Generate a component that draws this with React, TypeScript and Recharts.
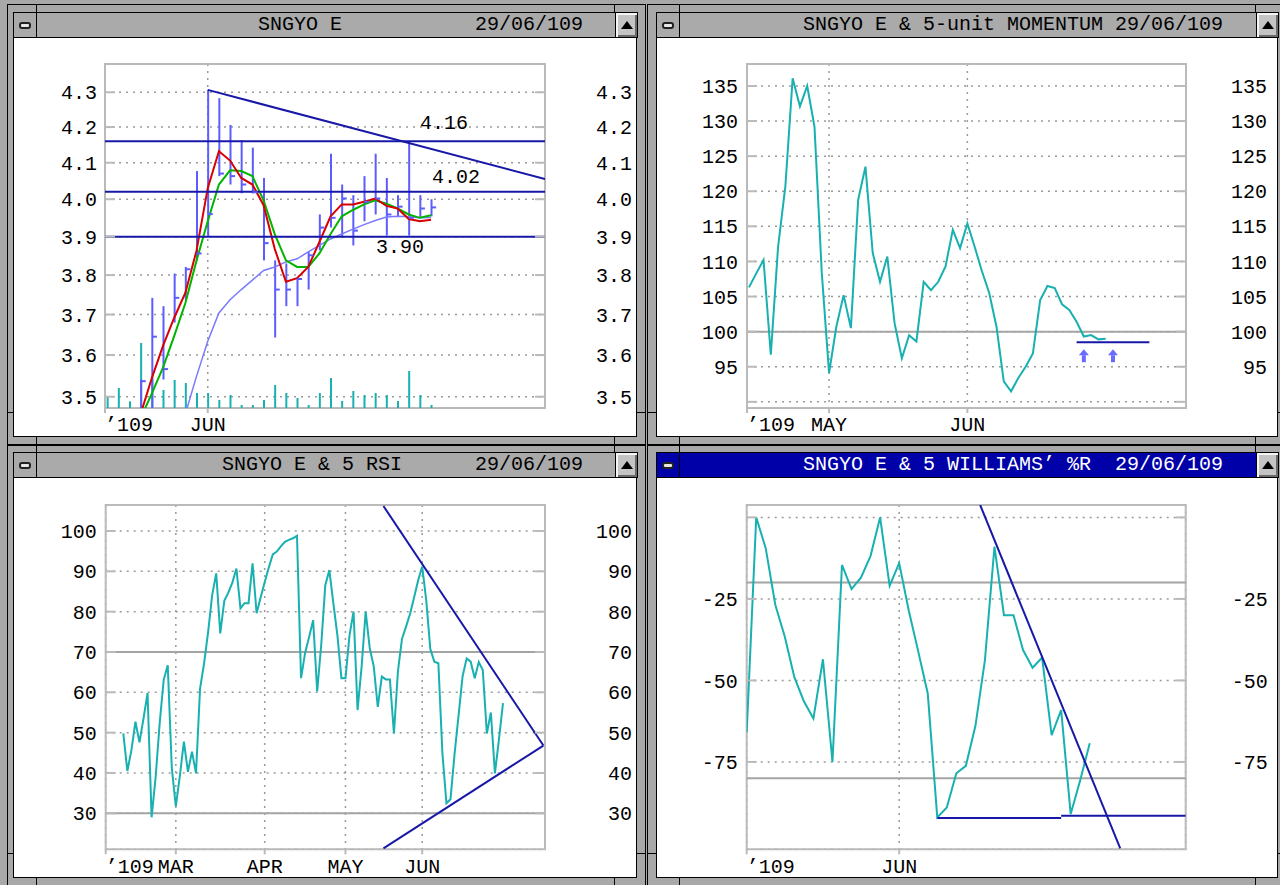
import React from 'react';
import {
  ComposedChart, Line, Bar, XAxis, YAxis, CartesianGrid,
  ReferenceLine, ReferenceArea, ReferenceDot,
} from 'recharts';

const FONT = '"Liberation Mono", "DejaVu Sans Mono", monospace';
const FRAME = '#a8a8a8';
const GRID = '#9a9a9a';
const BOX = '#bababa';
const LEVEL = '#a4a4a4';
const TEAL = '#18b0b0';
const NAVY = '#1818a8';
const BAR = '#5c5cff';
const ARROW = '#6a6aff';

// ---- SNGYO E : daily high/low/close, volume, moving averages (log scale) ----
const priceHigh = [null, null, null, 3.541, 3.742, 3.721, 3.804, 3.821, 4.077, 4.307, 4.283, 4.206, 4.163, 4.142, 4.058, 3.838, 3.830, 3.792, 3.860, 3.959, 4.125, 4.040, 4.011, 4.063, 4.125, 4.058, 4.011, 4.158, 4.011, 4.000];
const priceLow = [null, null, null, 3.44, 3.45, 3.541, 3.680, 3.737, 3.838, 3.900, 4.063, 4.040, 4.016, 4.016, 3.838, 3.643, 3.721, 3.721, 3.763, 3.864, 3.924, 3.898, 3.877, 3.941, 3.959, 3.903, 3.954, 3.903, 3.950, 3.954];
const priceClose = [null, null, null, 3.537, 3.645, 3.566, 3.742, 3.815, 3.856, 3.960, 4.070, 4.063, 4.040, 4.019, 3.883, 3.763, 3.763, 3.790, 3.851, 3.924, 3.950, 4.002, 3.916, 3.993, 4.002, 3.959, 3.980, 3.950, 3.975, 3.978];
const volume = [117, 200, 67, 650, 300, 180, 280, 250, 150, 150, 80, 130, 30, 30, 80, 230, 150, 100, 30, 150, 300, 70, 170, 130, 150, 130, 70, 370, 130, 30];
const maShort = [null, null, null, 3.46, 3.545, 3.623, 3.692, 3.755, 3.864, 4.030, 4.132, 4.106, 4.058, 4.040, 3.984, 3.868, 3.783, 3.792, 3.821, 3.886, 3.954, 3.986, 3.986, 3.993, 4.002, 3.982, 3.975, 3.947, 3.941, 3.945];
const maMid = [null, null, null, 3.45, 3.508, 3.570, 3.647, 3.729, 3.838, 3.941, 4.040, 4.079, 4.077, 4.063, 3.997, 3.907, 3.838, 3.821, 3.821, 3.856, 3.907, 3.954, 3.971, 3.986, 3.997, 3.988, 3.975, 3.959, 3.950, 3.957];
const maLong = [null, null, null, null, null, null, null, 3.46, 3.549, 3.634, 3.704, 3.737, 3.763, 3.787, 3.812, 3.821, 3.834, 3.842, 3.860, 3.877, 3.894, 3.907, 3.920, 3.932, 3.943, 3.952, 3.954, 3.953, 3.950, 3.951];
const priceLevels = [4.16, 4.02, 3.90];
const priceLevelLabels = ['4.16', '4.02', '3.90'];
const priceTrend = [{ x: 9, y: 4.307 }, { x: 39.2, y: 4.055 }];
const priceYTicks = [3.5, 3.6, 3.7, 3.8, 3.9, 4.0, 4.1, 4.2, 4.3];
const priceYLabels = ['3.5', '3.6', '3.7', '3.8', '3.9', '4.0', '4.1', '4.2', '4.3'];
const priceXTicks = [-0.2, 9];
const priceXLabels = ['’109', 'JUN'];

// ---- 5-unit momentum (days 1..50) ----
const momentum = [106.3, 108.3, 110.2, 96.7, 112.1, 120.7, 136.1, 132.1, 135.0, 129.2, 108.4, 94.1, 100.7, 105.2, 100.5, 118.8, 123.5, 111.2, 107.1, 110.7, 101.2, 96.2, 99.5, 98.6, 107.1, 105.9, 107.1, 109.3, 114.5, 111.9, 115.4, 112.1, 108.6, 105.5, 100.7, 92.9, 91.5, 93.4, 95.0, 96.9, 104.5, 106.5, 106.2, 103.9, 103.1, 101.4, 99.3, 99.5, 98.9, 99.0];
const momSupport = [{ x: 46, y: 98.5 }, { x: 56, y: 98.5 }];
const momSignals = [47, 51];
const momYTicks = [90, 95, 100, 105, 110, 115, 120, 125, 130, 135];
const momYLabels = ['', '95', '100', '105', '110', '115', '120', '125', '130', '135'];
const momXTicks = [0.73, 12, 31];
const momXLabels = ['’109', 'MAY', 'JUN'];

// ---- 5 RSI (days 0..94) ----
const rsi = [49.8, 40.5, 45.6, 52.7, 47.6, 53.5, 59.8, 29.0, 38.9, 52.3, 63.1, 66.7, 41.3, 31.7, 39.3, 47.8, 40.3, 45.3, 39.9, 60.9, 67.2, 75.0, 84.1, 89.5, 74.6, 82.7, 84.7, 87.2, 90.7, 80.8, 82.1, 82.1, 92.0, 79.6, 83.5, 87.3, 90.9, 94.2, 94.9, 96.2, 97.3, 97.8, 98.2, 98.8, 63.5, 69.7, 73.7, 77.9, 60.2, 71.8, 86.5, 90.3, 82.1, 74.2, 63.5, 63.5, 74.1, 80.0, 55.6, 66.4, 80.0, 71.0, 66.4, 56.4, 63.9, 63.2, 63.2, 49.8, 65.3, 73.3, 76.3, 79.5, 83.6, 87.8, 91.2, 82.8, 70.8, 67.6, 67.2, 44.9, 32.5, 33.5, 44.6, 54.3, 64.0, 68.4, 67.6, 63.5, 67.5, 65.5, 49.8, 55.0, 39.9, 48.3, 57.3];
const rsiUpper = [{ x: 64.4, y: 106.2 }, { x: 104, y: 46.8 }];
const rsiLower = [{ x: 64.4, y: 21.3 }, { x: 104, y: 46.8 }];
const rsiLevels = [70, 30];
const rsiYTicks = [30, 40, 50, 60, 70, 80, 90, 100];
const rsiYLabels = ['30', '40', '50', '60', '70', '80', '90', '100'];
const rsiXTicks = [-4.36, 13, 35, 55, 74];
const rsiXLabels = ['’109', 'MAR', 'APR', 'MAY', 'JUN'];

// ---- 5 Williams %R (days 0..36) ----
const williams = [-66, 0, -9.5, -26.8, -36.6, -49, -56.4, -61.7, -43.5, -75, -14.6, -22, -18.4, -11.8, 0, -21, -14, -28.5, -41.1, -54, -92, -89, -78.5, -76.2, -64, -43.8, -9, -30, -30, -40.7, -46.1, -43, -66.8, -59.1, -91, -80.6, -69.3];
const wrTrend = [{ x: 24.5, y: 3.8 }, { x: 39.2, y: -101.5 }];
const wrSupportA = [{ x: 20, y: -92.2 }, { x: 33, y: -92.2 }];
const wrSupportB = [{ x: 33, y: -91.5 }, { x: 46.07, y: -91.5 }];
const wrLevels = [-20, -80];
const wrYTicks = [-75, -50, -25, 0];
const wrYLabels = ['-75', '-50', '-25', ''];
const wrXTicks = [0, 16];
const wrXLabels = ['’109', 'JUN'];

const priceData = priceHigh.map((h, i) => ({
  day: i,
  range: h == null ? null : [priceLow[i], h],
  close: priceClose[i],
  vol: volume[i],
  ma1: maShort[i],
  ma2: maMid[i],
  ma3: maLong[i],
}));
const momData = momentum.map((v, i) => ({ day: i + 1, mom: v }));
const rsiData = rsi.map((v, i) => ({ day: i, rsi: v }));
const wrData = williams.map((v, i) => ({ day: i, wr: v }));

type Cfg = {
  xDomain: [number, number];
  yDomain: [number, number];
  xTicks: number[];
  xLabels: string[];
  yTicks: number[];
  yLabels: string[];
  log?: boolean;
  leftGap: number;
  rightGap: number;
};

const tickText = { fontFamily: FONT, fontSize: 20, fill: '#000' };

function xTick(values: number[], labels: string[]) {
  return (p: any) => {
    const i = values.indexOf(p.payload.value);
    return (
      <text x={p.x} y={p.y} dy="0.71em" textAnchor={i === 0 ? 'start' : 'middle'}
        fontFamily={FONT} fontSize={20} fill="#000">
        {i >= 0 ? labels[i] : ''}
      </text>
    );
  };
}

function axes(c: Cfg) {
  const fmt = (v: number) => {
    const i = c.yTicks.indexOf(v);
    return i >= 0 ? c.yLabels[i] : '';
  };
  const yCommon = {
    type: 'number' as const,
    scale: (c.log ? 'log' : 'linear') as any,
    domain: c.yDomain,
    ticks: c.yTicks,
    allowDataOverflow: true,
    interval: 0 as const,
    width: 60,
    axisLine: false,
    tickLine: { stroke: BOX, strokeWidth: 2 },
    tickSize: -10,
    tickFormatter: fmt,
  };
  return [
    <CartesianGrid key="grid" stroke={GRID} strokeDasharray="2 5" strokeWidth={1.5} />,
    <XAxis key="x" dataKey="day" type="number" domain={c.xDomain} ticks={c.xTicks}
      allowDataOverflow interval={0} height={20} axisLine={false}
      tickLine={{ stroke: BOX, strokeWidth: 2 }} tickSize={5} tickMargin={4}
      tick={xTick(c.xTicks, c.xLabels)} />,
    <YAxis key="yl" yAxisId={0} {...yCommon} tickMargin={c.leftGap} tick={tickText} />,
    <YAxis key="yr" yAxisId="r" orientation="right" {...yCommon} tickMargin={c.rightGap}
      tick={{ ...tickText, textAnchor: 'end' }} />,
  ];
}

function box(c: Cfg) {
  return (
    <ReferenceArea x1={c.xDomain[0]} x2={c.xDomain[1]} y1={c.yDomain[0]} y2={c.yDomain[1]}
      fill="none" stroke={BOX} strokeWidth={2} fillOpacity={0} />
  );
}

const closeTick = (p: any) =>
  p.cy == null || p.cx == null ? (
    <g key={`c${p.index}`} />
  ) : (
    <line key={`c${p.index}`} x1={p.cx} x2={p.cx + 5} y1={p.cy} y2={p.cy} stroke={BAR} strokeWidth={2} />
  );

const levelLabel = (text: string, dxFromRight: number, dy: number) => (p: any) => {
  const vb = p.viewBox || {};
  return (
    <text x={vb.x + vb.width - dxFromRight} y={vb.y + dy} textAnchor="end" dominantBaseline="central"
      fontFamily={FONT} fontSize={20} fill="#000">
      {text}
    </text>
  );
};
const levelLabelPos: [number, number][] = [[77, -18], [65, -14], [121, 11]];

const arrowShape = (p: any) => (
  <g>
    <polygon points={`${p.cx - 5},${p.cy - 1} ${p.cx},${p.cy - 7} ${p.cx + 5},${p.cy - 1}`} fill={ARROW} />
    <rect x={p.cx - 2} y={p.cy - 1} width={4} height={7} fill={ARROW} />
  </g>
);

const priceCfg: Cfg = {
  xDomain: [-0.2, 39.2], yDomain: [3.4734, 4.383], xTicks: priceXTicks, xLabels: priceXLabels,
  yTicks: priceYTicks, yLabels: priceYLabels, log: true, leftGap: 18, rightGap: 97,
};
const momCfg: Cfg = {
  xDomain: [0.73, 61.03], yDomain: [89.12, 138.13], xTicks: momXTicks, xLabels: momXLabels,
  yTicks: momYTicks, yLabels: momYLabels, leftGap: 19, rightGap: 91,
};
const rsiCfg: Cfg = {
  xDomain: [-4.36, 104.4], yDomain: [21.07, 106.45], xTicks: rsiXTicks, xLabels: rsiXLabels,
  yTicks: rsiYTicks, yLabels: rsiYLabels, leftGap: 19, rightGap: 97,
};
const wrCfg: Cfg = {
  xDomain: [0, 46.07], yDomain: [-101.8, 3.8], xTicks: wrXTicks, xLabels: wrXLabels,
  yTicks: wrYTicks, yLabels: wrYLabels, leftGap: 19, rightGap: 92,
};

function PriceChart() {
  return (
    <ComposedChart width={622} height={398} data={priceData}
      margin={{ top: 26, left: 31, right: 31, bottom: 8 }}>
      {axes(priceCfg)}
      <XAxis xAxisId="vol" dataKey="day" type="number" domain={priceCfg.xDomain} allowDataOverflow hide />
      <YAxis yAxisId="vol" type="number" domain={[0, 3440]} allowDataOverflow hide />
      <Bar xAxisId="vol" yAxisId="vol" dataKey="vol" barSize={2} fill={TEAL} isAnimationActive={false} />
      <Bar dataKey="range" barSize={2} fill={BAR} isAnimationActive={false} />
      <Line dataKey="close" stroke="none" dot={closeTick} activeDot={false} isAnimationActive={false} />
      <Line dataKey="ma3" stroke="#7a7aff" strokeWidth={1.5} dot={false} isAnimationActive={false} />
      <Line dataKey="ma2" stroke="#00b400" strokeWidth={2} dot={false} isAnimationActive={false} />
      <Line dataKey="ma1" stroke="#d80000" strokeWidth={2} dot={false} isAnimationActive={false} />
      {priceLevels.map((v, i) => (
        <ReferenceLine key={v} y={v} stroke={NAVY} strokeWidth={2}
          label={levelLabel(priceLevelLabels[i], levelLabelPos[i][0], levelLabelPos[i][1])} />
      ))}
      <ReferenceLine segment={priceTrend} stroke={NAVY} strokeWidth={2} ifOverflow="hidden" />
      {box(priceCfg)}
    </ComposedChart>
  );
}

function MomentumChart() {
  return (
    <ComposedChart width={620} height={398} data={momData}
      margin={{ top: 26, left: 30, right: 31, bottom: 8 }}>
      {axes(momCfg)}
      <ReferenceLine y={100} stroke={LEVEL} strokeWidth={2} />
      <Line dataKey="mom" stroke={TEAL} strokeWidth={2} dot={false} isAnimationActive={false} />
      <ReferenceLine segment={momSupport} stroke={NAVY} strokeWidth={2} ifOverflow="hidden" />
      {momSignals.map((d) => (
        <ReferenceDot key={d} x={d} y={96.5} r={5} shape={arrowShape} ifOverflow="visible" />
      ))}
      {box(momCfg)}
    </ComposedChart>
  );
}

function RsiChart() {
  return (
    <ComposedChart width={622} height={399} data={rsiData}
      margin={{ top: 27, left: 31.7, right: 31, bottom: 7.7 }}>
      {axes(rsiCfg)}
      {rsiLevels.map((v) => (
        <ReferenceLine key={v} y={v} stroke={LEVEL} strokeWidth={2} />
      ))}
      <Line dataKey="rsi" stroke={TEAL} strokeWidth={2} dot={false} isAnimationActive={false} />
      <ReferenceLine segment={rsiUpper} stroke={NAVY} strokeWidth={2} ifOverflow="hidden" />
      <ReferenceLine segment={rsiLower} stroke={NAVY} strokeWidth={2} ifOverflow="hidden" />
      {box(rsiCfg)}
    </ComposedChart>
  );
}

function WilliamsChart() {
  return (
    <ComposedChart width={620} height={399} data={wrData}
      margin={{ top: 27, left: 29.7, right: 31.3, bottom: 7.7 }}>
      {axes(wrCfg)}
      {wrLevels.map((v) => (
        <ReferenceLine key={v} y={v} stroke={LEVEL} strokeWidth={2} />
      ))}
      <Line dataKey="wr" stroke={TEAL} strokeWidth={2} dot={false} isAnimationActive={false} />
      <ReferenceLine segment={wrSupportA} stroke={NAVY} strokeWidth={2} ifOverflow="hidden" />
      <ReferenceLine segment={wrSupportB} stroke={NAVY} strokeWidth={2} ifOverflow="hidden" />
      <ReferenceLine segment={wrTrend} stroke={NAVY} strokeWidth={2} ifOverflow="hidden" />
      {box(wrCfg)}
    </ComposedChart>
  );
}

type Box4 = [number, number, number, number];

function abs(x: number, y: number, w: number, h: number, extra: React.CSSProperties = {}): React.CSSProperties {
  return { position: 'absolute', left: x, top: y, width: w, height: h, boxSizing: 'border-box', ...extra };
}

function Win(props: {
  outer: Box4; content: Box4; active?: boolean;
  title: { text: string; x: number }[]; children: React.ReactNode;
}) {
  const { outer, content, active, title, children } = props;
  const [ox0, oy0, ox1, oy1] = outer;
  const [cx0, cy0, cx1, cy1] = content;
  const tx0 = cx0 - 1, tx1 = cx1 + 1, ty0 = cy0 - 26, ty1 = cy0 - 1;
  const blk = { background: '#000' };
  return (
    <>
      <div style={abs(ox0, oy0, ox1 - ox0 + 1, oy1 - oy0 + 1, { border: '1px solid #000', background: FRAME })} />
      <div style={abs(tx0 + 23, oy0, 1, ty0 - oy0, blk)} />
      <div style={abs(tx1 - 23, oy0, 1, ty0 - oy0, blk)} />
      <div style={abs(tx0 + 23, cy1, 1, oy1 - cy1, blk)} />
      <div style={abs(tx1 - 23, cy1, 1, oy1 - cy1, blk)} />
      <div style={abs(ox0, cy1 - 24, cx0 - ox0, 1, blk)} />
      <div style={abs(cx1, cy1 - 24, ox1 - cx1, 1, blk)} />
      <div style={abs(tx0, ty0, tx1 - tx0 + 1, ty1 - ty0 + 1, {
        border: '1px solid #000', background: active ? '#0000a8' : '#aaaaaa', overflow: 'hidden',
      })}>
        <div style={abs(0, 0, 23, 24, { borderRight: '1px solid #000' })}>
          <div style={abs(5, 9, 12, 7, { border: '2px solid #222', borderRadius: 3, background: '#e8e8e8' })} />
        </div>
        {title.map((t) => (
          <span key={t.text} style={{
            position: 'absolute', left: t.x - tx0 - 1, top: 0, height: 24, lineHeight: '24px',
            fontFamily: FONT, fontSize: 20, whiteSpace: 'pre', color: active ? '#fff' : '#000',
          }}>{t.text}</span>
        ))}
        <div style={abs(tx1 - tx0 - 23, 0, 22, 24, {
          borderLeft: '1px solid #000', background: '#c4c4c4',
          boxShadow: 'inset 2px 2px 0 #f4f4f4, inset -2px -2px 0 #6a6a6a',
        })}>
          <div style={{
            position: 'absolute', left: 5, top: 8, width: 0, height: 0,
            borderLeft: '6px solid transparent', borderRight: '6px solid transparent',
            borderBottom: '8px solid #000',
          }} />
        </div>
      </div>
      <div style={abs(cx0 - 1, cy0 - 1, cx1 - cx0 + 2, cy1 - cy0 + 2, { border: '1px solid #000', background: '#fff' })} />
      <div style={abs(cx0, cy0, cx1 - cx0, cy1 - cy0)}>{children}</div>
    </>
  );
}

export default function App() {
  return (
    <div style={{ position: 'relative', width: 1280, height: 885, overflow: 'hidden', background: FRAME }}>
      <style>{'body{margin:0}'}</style>
      <Win outer={[7, 4, 645, 444]} content={[14, 38, 636, 436]}
        title={[{ text: 'SNGYO E', x: 258 }, { text: '29/06/109', x: 475 }]}>
        <PriceChart />
      </Win>
      <Win outer={[647, 4, 1290, 444]} content={[657, 38, 1277, 436]}
        title={[{ text: 'SNGYO E & 5-unit MOMENTUM 29/06/109', x: 803 }]}>
        <MomentumChart />
      </Win>
      <Win outer={[7, 445, 645, 895]} content={[14, 478, 636, 877]}
        title={[{ text: 'SNGYO E & 5 RSI', x: 222 }, { text: '29/06/109', x: 475 }]}>
        <RsiChart />
      </Win>
      <Win outer={[647, 445, 1290, 895]} content={[657, 478, 1277, 877]} active
        title={[{ text: 'SNGYO E & 5 WILLIAMS’ %R  29/06/109', x: 803 }]}>
        <WilliamsChart />
      </Win>
    </div>
  );
}
